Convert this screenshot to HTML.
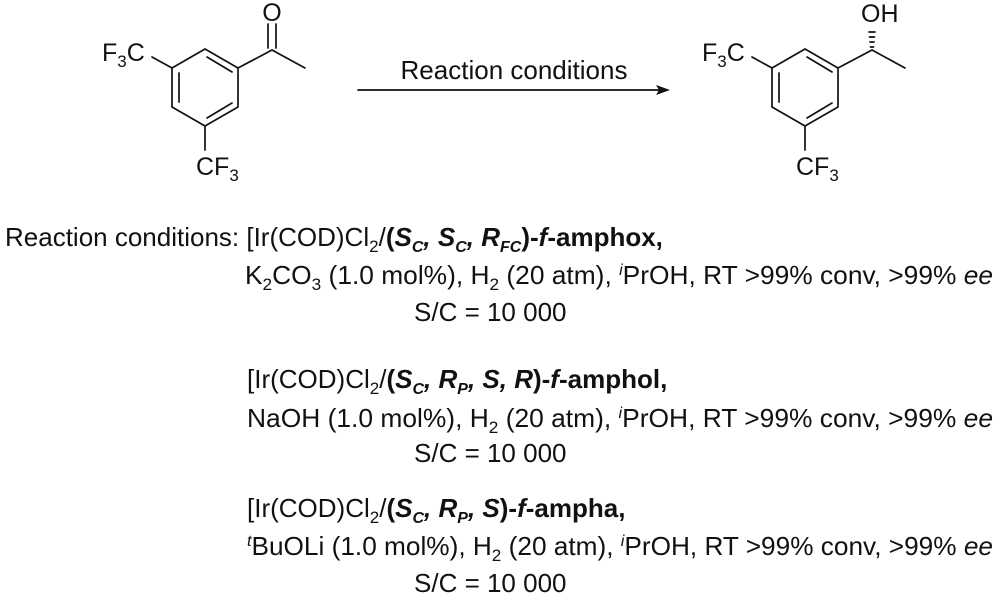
<!DOCTYPE html>
<html><head><meta charset="utf-8"><style>
html,body{margin:0;padding:0;background:#fff;}
svg{display:block;}
text{font-family:"Liberation Sans",Arial,sans-serif;fill:#111;}
</style></head><body>
<svg width="1000" height="613" viewBox="0 0 1000 613" xmlns="http://www.w3.org/2000/svg">
<g stroke="#111" stroke-width="1.7" fill="none" stroke-linecap="round">
  <polygon points="205,49 238,68 238,107 205,126 172,107 172,68"/>
  <line x1="179" y1="73" x2="179" y2="102"/>
  <line x1="207" y1="57" x2="232" y2="72"/>
  <line x1="207" y1="118" x2="232" y2="103"/>
  <line x1="172" y1="68" x2="152" y2="57"/>
  <line x1="205" y1="126" x2="205" y2="150"/>
  <line x1="238" y1="68" x2="272" y2="50"/>
  <line x1="272" y1="50" x2="305" y2="68"/>
  <line x1="268" y1="48" x2="268" y2="24"/>
  <line x1="276" y1="48" x2="276" y2="24"/>
  <polygon points="805,49 838,68 838,107 805,126 772,107 772,68"/>
  <line x1="779" y1="73" x2="779" y2="102"/>
  <line x1="807" y1="57" x2="832" y2="72"/>
  <line x1="807" y1="118" x2="832" y2="103"/>
  <line x1="772" y1="68" x2="752" y2="57"/>
  <line x1="805" y1="126" x2="805" y2="150"/>
  <line x1="838" y1="68" x2="872" y2="50"/>
  <line x1="872" y1="50" x2="905" y2="68"/>
  <line x1="870.5" y1="47" x2="873.5" y2="47"/>
  <line x1="870" y1="42" x2="874" y2="42"/>
  <line x1="869.5" y1="37" x2="874.5" y2="37"/>
  <line x1="869" y1="32" x2="875" y2="32"/>
  <line x1="358" y1="90" x2="660" y2="90"/>
</g>
<polygon points="670,90 656,85 659,90 656,95" fill="#111"/>
<g font-size="25">
  <text x="102" y="61">F<tspan font-size="17" dy="6">3</tspan><tspan dy="-6">C</tspan></text>
  <text x="196" y="175">CF<tspan font-size="17" dy="6">3</tspan></text>
  <text x="272" y="21" text-anchor="middle">O</text>
  <text x="702" y="61">F<tspan font-size="17" dy="6">3</tspan><tspan dy="-6">C</tspan></text>
  <text x="796" y="175">CF<tspan font-size="17" dy="6">3</tspan></text>
  <text x="861" y="22">OH</text>
</g>
<text x="514" y="79" text-anchor="middle" font-size="26">Reaction conditions</text>
<g font-size="26">
  <text x="5" y="246">Reaction conditions: [Ir(COD)Cl<tspan font-size="17" dy="6">2</tspan><tspan dy="-6">/</tspan><tspan font-weight="bold">(<tspan font-style="italic">S<tspan font-size="16" dy="6">C</tspan><tspan dy="-6">, S</tspan><tspan font-size="16" dy="6">C</tspan><tspan dy="-6">, R</tspan><tspan font-size="16" dy="6">FC</tspan></tspan><tspan dy="-6">)-<tspan font-style="italic">f</tspan>-amphox,</tspan></tspan></text>
  <text x="245" y="284" textLength="748" lengthAdjust="spacingAndGlyphs">K<tspan font-size="17" dy="6">2</tspan><tspan dy="-6">CO</tspan><tspan font-size="17" dy="6">3</tspan><tspan dy="-6"> (1.0 mol%), H</tspan><tspan font-size="17" dy="6">2</tspan><tspan dy="-6"> (20 atm), </tspan><tspan font-size="16" font-style="italic" dy="-9">i</tspan><tspan dy="9">PrOH, RT &gt;99% conv, &gt;99% </tspan><tspan font-style="italic">ee</tspan></text>
  <text x="414" y="321">S/C = 10 000</text>

  <text x="247" y="388">[Ir(COD)Cl<tspan font-size="17" dy="6">2</tspan><tspan dy="-6">/</tspan><tspan font-weight="bold">(<tspan font-style="italic">S<tspan font-size="16" dy="6">C</tspan><tspan dy="-6">, R</tspan><tspan font-size="16" dy="6">P</tspan><tspan dy="-6">, S, R</tspan></tspan>)-<tspan font-style="italic">f</tspan>-amphol,</tspan></text>
  <text x="247" y="427" textLength="746" lengthAdjust="spacingAndGlyphs">NaOH (1.0 mol%), H<tspan font-size="17" dy="6">2</tspan><tspan dy="-6"> (20 atm), </tspan><tspan font-size="16" font-style="italic" dy="-9">i</tspan><tspan dy="9">PrOH, RT &gt;99% conv, &gt;99% </tspan><tspan font-style="italic">ee</tspan></text>
  <text x="414" y="462">S/C = 10 000</text>

  <text x="247" y="517">[Ir(COD)Cl<tspan font-size="17" dy="6">2</tspan><tspan dy="-6">/</tspan><tspan font-weight="bold">(<tspan font-style="italic">S<tspan font-size="16" dy="6">C</tspan><tspan dy="-6">, R</tspan><tspan font-size="16" dy="6">P</tspan><tspan dy="-6">, S</tspan></tspan>)-<tspan font-style="italic">f</tspan>-ampha,</tspan></text>
  <text x="247" y="555" textLength="746" lengthAdjust="spacingAndGlyphs"><tspan font-size="16" font-style="italic" dy="-9">t</tspan><tspan dy="9">BuOLi (1.0 mol%), H</tspan><tspan font-size="17" dy="6">2</tspan><tspan dy="-6"> (20 atm), </tspan><tspan font-size="16" font-style="italic" dy="-9">i</tspan><tspan dy="9">PrOH, RT &gt;99% conv, &gt;99% </tspan><tspan font-style="italic">ee</tspan></text>
  <text x="414" y="592">S/C = 10 000</text>
</g>
</svg>
</body></html>
